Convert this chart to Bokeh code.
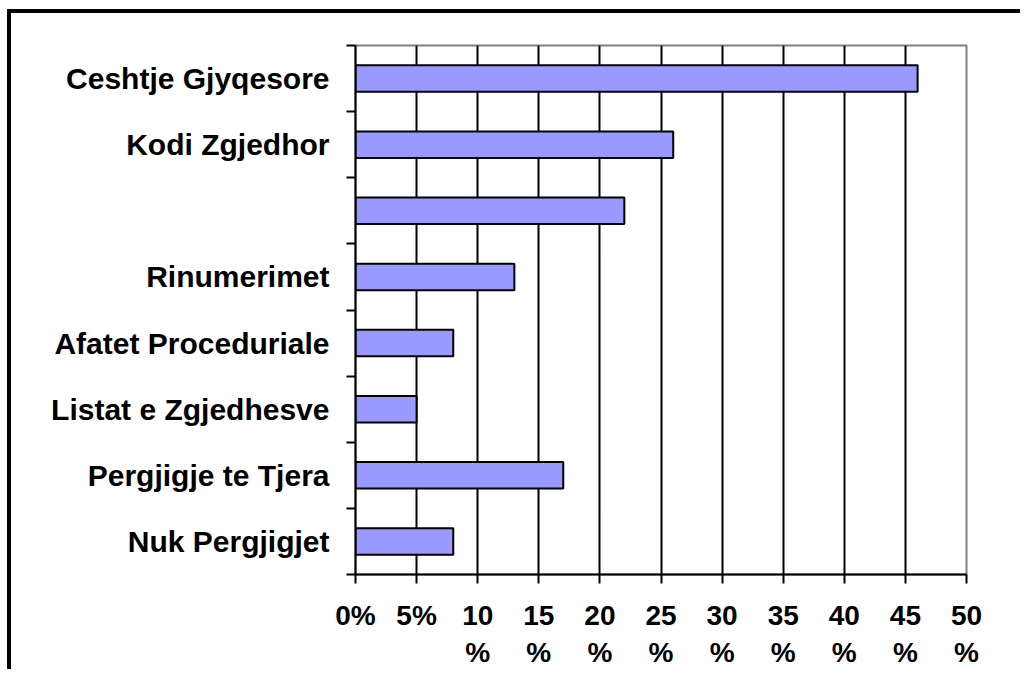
from bokeh.plotting import figure
from bokeh.models import Range1d, FixedTicker, Spacer
from bokeh.layouts import column, row
from bokeh.embed import file_html
from bokeh.resources import INLINE

categories = ["Ceshtje Gjyqesore", "Kodi Zgjedhor", "", "Rinumerimet",
              "Afatet Proceduriale", "Listat e Zgjedhesve",
              "Pergjigje te Tjera", "Nuk Pergjigjet"]
values = [46, 26, 22, 13, 8, 5, 17, 8]
x_ticks = [0, 5, 10, 15, 20, 25, 30, 35, 40, 45, 50]
x_tick_labels = ["0%", "5%", "10\n%", "15\n%", "20\n%", "25\n%", "30\n%",
                 "35\n%", "40\n%", "45\n%", "50\n%"]

n = len(categories)
ypos = [n - i - 0.5 for i in range(n)]

FONT = "Liberation Sans"

p = figure(width=1013, height=660, output_backend="svg", toolbar_location=None,
           x_range=Range1d(0, 50), y_range=Range1d(0, n),
           min_border_left=344, min_border_top=32, min_border_right=58,
           min_border_bottom=99)
p.styles = {"border-top": "4px solid black", "border-left": "4px solid black"}
p.background_fill_color = "white"
p.border_fill_color = "white"
p.outline_line_color = "#808080"
p.outline_line_width = 2

p.hbar(y=ypos, right=values, left=0, height=0.4, fill_color="#9999FF",
       line_color="black", line_width=2)

# grid
p.ygrid.visible = False
p.xgrid.ticker = FixedTicker(ticks=x_ticks[1:-1])
p.xgrid.grid_line_color = "black"
p.xgrid.grid_line_width = 2
p.xgrid.level = "underlay"

# x axis
xa = p.xaxis[0]
xa.ticker = FixedTicker(ticks=x_ticks)
xa.major_label_overrides = {t: l for t, l in zip(x_ticks, x_tick_labels)}
xa.axis_line_color = "black"
xa.axis_line_width = 2
xa.major_tick_line_color = "black"
xa.major_tick_line_width = 2
xa.major_tick_out = 9
xa.major_tick_in = 0
xa.minor_tick_line_color = None
xa.major_label_text_font = FONT
xa.major_label_text_font_style = "bold"
xa.major_label_text_font_size = "28px"
xa.major_label_text_color = "black"
xa.major_label_text_line_height = 1.2
xa.major_label_standoff = 16

# y axis
ya = p.yaxis[0]
ya.ticker = FixedTicker(ticks=ypos, minor_ticks=list(range(n + 1)))
ya.major_label_overrides = {y: c for y, c in zip(ypos, categories)}
ya.axis_line_color = "black"
ya.axis_line_width = 2
ya.major_tick_out = 0
ya.major_tick_in = 0
ya.major_tick_line_color = None
ya.minor_tick_line_color = "black"
ya.minor_tick_line_width = 2
ya.minor_tick_out = 9
ya.minor_tick_in = 0
ya.major_label_text_font = FONT
ya.major_label_text_font_style = "bold"
ya.major_label_text_font_size = "30px"
ya.major_label_text_color = "black"
ya.major_label_standoff = 17

layout = column(Spacer(height=9), row(Spacer(width=7), p))

open("out.html", "w").write(file_html(layout, INLINE))
